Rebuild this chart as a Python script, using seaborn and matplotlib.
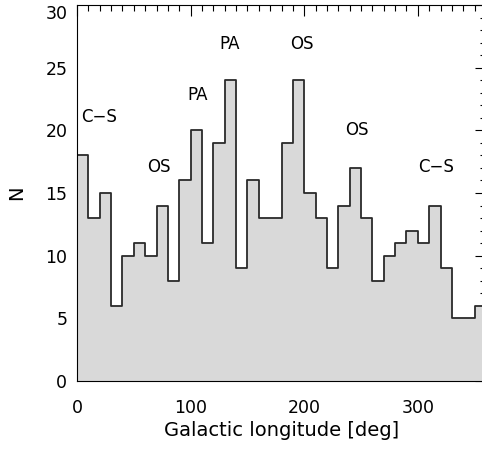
import numpy as np
import pandas as pd
import matplotlib
matplotlib.use("Agg")
import matplotlib.pyplot as plt
from matplotlib.ticker import MultipleLocator
import seaborn as sns

# Counts per 10-degree bin of Galactic longitude
bin_edges = list(range(0, 370, 10))
counts = [18, 13, 15, 6, 10, 11, 10, 14, 8, 16, 20, 11, 19, 24, 9, 16, 13, 13,
          19, 24, 15, 13, 9, 14, 17, 13, 8, 10, 11, 12, 11, 14, 9, 5, 5, 6]

# Spiral-arm labels: text, longitude, N
arm_labels = ["C-S", "OS", "PA", "PA", "OS", "OS", "C-S"]
arm_lon = [19, 72, 106, 134, 198, 246, 316]
arm_n = [21.1, 17.1, 22.8, 26.9, 26.9, 20.0, 17.1]

df = pd.DataFrame({"lon": [e + 5 for e in bin_edges[:-1]], "n": counts})

sns.set_style("white")
plt.rcParams["font.family"] = ["DejaVu Sans"]
plt.rcParams["text.color"] = "black"

fig = plt.figure(figsize=(4.82, 4.5), dpi=100)
ax = fig.add_axes([77 / 482, 69 / 450, 409 / 482, 376 / 450])

# grey filled area, then the dark step outline on top
sns.histplot(data=df, x="lon", weights="n", bins=bin_edges, element="step",
             fill=True, color="#d9d9d9", alpha=1.0, linewidth=0, ax=ax)
sns.histplot(data=df, x="lon", weights="n", bins=bin_edges, element="step",
             fill=False, color="#2a2a2a", linewidth=1.3, ax=ax)

ax.set_xlim(0, 360)
ax.set_ylim(0, 30)
ax.xaxis.set_major_locator(MultipleLocator(100))
ax.xaxis.set_minor_locator(MultipleLocator(10))
ax.yaxis.set_major_locator(MultipleLocator(5))
ax.yaxis.set_minor_locator(MultipleLocator(1))
ax.tick_params(which="both", direction="in", top=True, right=True,
               labelsize=12.5, colors="black", labelcolor="black", width=0.8)
ax.tick_params(which="major", length=8)
ax.tick_params(which="minor", length=4)
ax.tick_params(axis="x", which="major", pad=13)
ax.tick_params(axis="y", which="major", pad=7)
for s in ax.spines.values():
    s.set_color("black")
    s.set_linewidth(0.8)

ax.set_xlabel("Galactic longitude [deg]", fontsize=14, color="black", labelpad=3)
ax.set_ylabel("N", fontsize=14, color="black")
ax.yaxis.set_label_coords(-0.125, 0.5)

# keep the top y tick label inside the figure
fig.canvas.draw()
for lab in ax.get_yticklabels():
    if lab.get_text() == "30":
        lab.set_verticalalignment("top")

for t, x, y in zip(arm_labels, arm_lon, arm_n):
    ax.text(x, y, t.replace("-", "\u2212"), ha="center", va="center",
            fontsize=12, color="black")

fig.savefig("out.png", dpi=100)
